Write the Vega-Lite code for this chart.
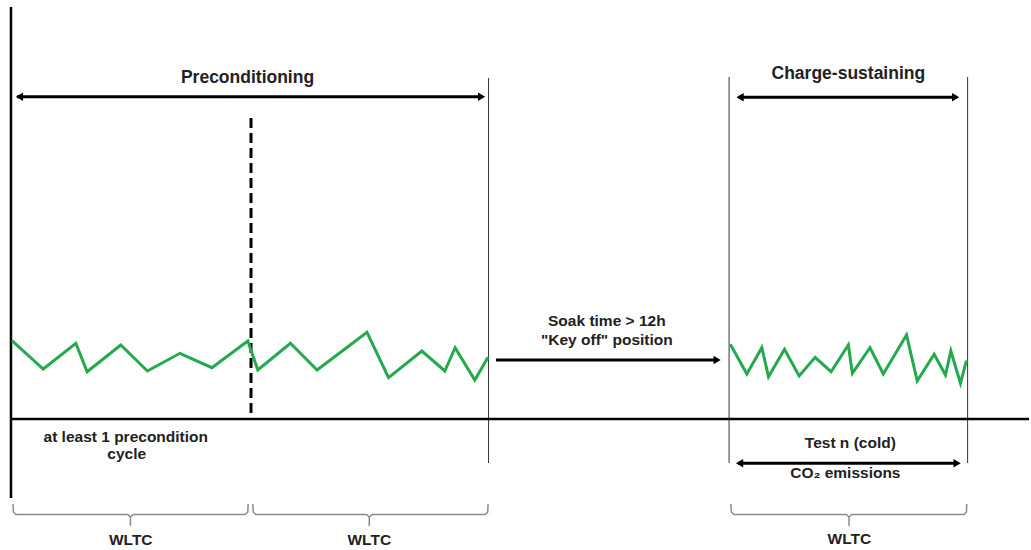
{
  "$schema": "https://vega.github.io/schema/vega-lite/v6.json",
  "width": 1031,
  "height": 550,
  "padding": 0,
  "autosize": {"type": "fit", "contains": "padding"},
  "background": "white",
  "config": {"view": {"stroke": null}},
  "datasets": {
    "green": [
      {"seg": "A", "i": 1, "x": 12, "y": 340.7}, {"seg": "A", "i": 2, "x": 43.3, "y": 369}, {"seg": "A", "i": 3, "x": 76, "y": 343.3},
      {"seg": "A", "i": 4, "x": 87.3, "y": 371.7}, {"seg": "A", "i": 5, "x": 121, "y": 345}, {"seg": "A", "i": 6, "x": 147.7, "y": 371},
      {"seg": "A", "i": 7, "x": 180.3, "y": 353.3}, {"seg": "A", "i": 8, "x": 212.3, "y": 367.7}, {"seg": "A", "i": 9, "x": 248.3, "y": 341},
      {"seg": "A", "i": 10, "x": 258.3, "y": 370}, {"seg": "A", "i": 11, "x": 291, "y": 343.3}, {"seg": "A", "i": 12, "x": 317.7, "y": 370},
      {"seg": "A", "i": 13, "x": 367.7, "y": 332.3}, {"seg": "A", "i": 14, "x": 389.3, "y": 377.7}, {"seg": "A", "i": 15, "x": 422.7, "y": 351},
      {"seg": "A", "i": 16, "x": 445.7, "y": 371}, {"seg": "A", "i": 17, "x": 456, "y": 347.7}, {"seg": "A", "i": 18, "x": 475.7, "y": 380},
      {"seg": "A", "i": 19, "x": 489, "y": 357.3},
      {"seg": "B", "i": 1, "x": 731.7, "y": 344.3}, {"seg": "B", "i": 2, "x": 748.3, "y": 374}, {"seg": "B", "i": 3, "x": 763.3, "y": 347.7},
      {"seg": "B", "i": 4, "x": 770, "y": 376.7}, {"seg": "B", "i": 5, "x": 786, "y": 349.3}, {"seg": "B", "i": 6, "x": 800.7, "y": 376},
      {"seg": "B", "i": 7, "x": 816.7, "y": 357.3}, {"seg": "B", "i": 8, "x": 832.7, "y": 371.7}, {"seg": "B", "i": 9, "x": 850, "y": 345},
      {"seg": "B", "i": 10, "x": 854, "y": 373.3}, {"seg": "B", "i": 11, "x": 871.7, "y": 347.7}, {"seg": "B", "i": 12, "x": 885, "y": 374},
      {"seg": "B", "i": 13, "x": 908.3, "y": 335}, {"seg": "B", "i": 14, "x": 919, "y": 381}, {"seg": "B", "i": 15, "x": 936, "y": 354.3},
      {"seg": "B", "i": 16, "x": 947.3, "y": 375}, {"seg": "B", "i": 17, "x": 952.7, "y": 351}, {"seg": "B", "i": 18, "x": 962.3, "y": 383.3},
      {"seg": "B", "i": 19, "x": 968.3, "y": 360.7}
    ],
    "axes": [
      {"x": 11, "y": 7, "x2": 11, "y2": 498},
      {"x": 11, "y": 419, "x2": 1031, "y2": 419}
    ],
    "shafts": [
      {"x": 17, "y": 96.7, "x2": 483, "y2": 96.7},
      {"x": 740, "y": 97.3, "x2": 958, "y2": 97.3},
      {"x": 497, "y": 360, "x2": 716, "y2": 360},
      {"x": 740, "y": 463.3, "x2": 958, "y2": 463.3}
    ],
    "thin": [
      {"x": 489.5, "y": 78, "x2": 489.5, "y2": 463},
      {"x": 730.5, "y": 77, "x2": 730.5, "y2": 463},
      {"x": 969.5, "y": 77, "x2": 969.5, "y2": 463}
    ],
    "dashed": [
      {"x": 251.5, "y": 118, "x2": 251.5, "y2": 418}
    ],
    "headsL": [
      {"x": 19.5, "y": 96.7}, {"x": 741.5, "y": 97.3}, {"x": 741, "y": 463.3}
    ],
    "headsR": [
      {"x": 482.5, "y": 96.7}, {"x": 957.5, "y": 97.3}, {"x": 718.5, "y": 360}, {"x": 959, "y": 463.3}
    ],
    "braces": [
      {"b": 1, "i": 1, "x": 13, "y": 504}, {"b": 1, "i": 2, "x": 13.5, "y": 512}, {"b": 1, "i": 3, "x": 16, "y": 514.5},
      {"b": 1, "i": 4, "x": 128, "y": 514.5}, {"b": 1, "i": 5, "x": 130.7, "y": 517}, {"b": 1, "i": 6, "x": 130.7, "y": 526},
      {"b": 1, "i": 7, "x": 130.7, "y": 517}, {"b": 1, "i": 8, "x": 133.4, "y": 514.5}, {"b": 1, "i": 9, "x": 245.8, "y": 514.5},
      {"b": 1, "i": 10, "x": 248.3, "y": 512}, {"b": 1, "i": 11, "x": 248.6, "y": 504},
      {"b": 2, "i": 1, "x": 253.3, "y": 504}, {"b": 2, "i": 2, "x": 253.8, "y": 512}, {"b": 2, "i": 3, "x": 256.3, "y": 514.5},
      {"b": 2, "i": 4, "x": 367.3, "y": 514.5}, {"b": 2, "i": 5, "x": 370, "y": 517}, {"b": 2, "i": 6, "x": 370, "y": 526},
      {"b": 2, "i": 7, "x": 370, "y": 517}, {"b": 2, "i": 8, "x": 372.7, "y": 514.5}, {"b": 2, "i": 9, "x": 486.2, "y": 514.5},
      {"b": 2, "i": 10, "x": 488.7, "y": 512}, {"b": 2, "i": 11, "x": 489, "y": 504},
      {"b": 3, "i": 1, "x": 732.3, "y": 504}, {"b": 3, "i": 2, "x": 732.8, "y": 512}, {"b": 3, "i": 3, "x": 735.3, "y": 514.5},
      {"b": 3, "i": 4, "x": 848, "y": 514.5}, {"b": 3, "i": 5, "x": 850.7, "y": 517}, {"b": 3, "i": 6, "x": 850.7, "y": 526},
      {"b": 3, "i": 7, "x": 850.7, "y": 517}, {"b": 3, "i": 8, "x": 853.4, "y": 514.5}, {"b": 3, "i": 9, "x": 965.8, "y": 514.5},
      {"b": 3, "i": 10, "x": 968.3, "y": 512}, {"b": 3, "i": 11, "x": 968.6, "y": 504}
    ],
    "titles": [
      {"x": 248, "y": 78, "label": "Preconditioning"},
      {"x": 850, "y": 74, "label": "Charge-sustaining"}
    ],
    "labels": [
      {"x": 608, "y": 321, "label": "Soak time > 12h"},
      {"x": 608, "y": 340, "label": "\"Key off\" position"},
      {"x": 126, "y": 437, "label": "at least 1 precondition"},
      {"x": 127, "y": 454, "label": "cycle"},
      {"x": 852, "y": 443, "label": "Test n (cold)"},
      {"x": 847, "y": 473, "label": "CO₂ emissions"},
      {"x": 131, "y": 540, "label": "WLTC"},
      {"x": 370, "y": 540, "label": "WLTC"},
      {"x": 851, "y": 539, "label": "WLTC"}
    ]
  },
  "encoding": {
    "x": {"field": "x", "type": "quantitative", "scale": {"domain": [0, 1031], "nice": false, "zero": false}, "axis": null},
    "y": {"field": "y", "type": "quantitative", "scale": {"domain": [0, 550], "nice": false, "zero": false, "reverse": true}, "axis": null}
  },
  "layer": [
    {
      "data": {"name": "braces"},
      "mark": {"type": "line", "color": "#8a8a8a", "strokeWidth": 1.5, "interpolate": "linear"},
      "encoding": {"detail": {"field": "b"}, "order": {"field": "i", "type": "quantitative"}}
    },
    {
      "data": {"name": "thin"},
      "mark": {"type": "rule", "color": "#333333", "strokeWidth": 1},
      "encoding": {"x2": {"field": "x2"}, "y2": {"field": "y2"}}
    },
    {
      "data": {"name": "axes"},
      "mark": {"type": "rule", "color": "#000000", "strokeWidth": 2.5},
      "encoding": {"x2": {"field": "x2"}, "y2": {"field": "y2"}}
    },
    {
      "data": {"name": "dashed"},
      "mark": {"type": "rule", "color": "#000000", "strokeWidth": 3, "strokeDash": [10, 5]},
      "encoding": {"x2": {"field": "x2"}, "y2": {"field": "y2"}}
    },
    {
      "data": {"name": "green"},
      "mark": {"type": "line", "color": "#22aa4c", "strokeWidth": 3, "strokeJoin": "miter"},
      "encoding": {"detail": {"field": "seg"}, "order": {"field": "i", "type": "quantitative"}}
    },
    {
      "data": {"name": "shafts"},
      "mark": {"type": "rule", "color": "#000000", "strokeWidth": 3},
      "encoding": {"x2": {"field": "x2"}, "y2": {"field": "y2"}}
    },
    {
      "data": {"name": "headsL"},
      "mark": {"type": "point", "shape": "triangle-left", "filled": true, "color": "#000000", "size": 70, "opacity": 1}
    },
    {
      "data": {"name": "headsR"},
      "mark": {"type": "point", "shape": "triangle-right", "filled": true, "color": "#000000", "size": 70, "opacity": 1}
    },
    {
      "data": {"name": "titles"},
      "mark": {"type": "text", "font": "Liberation Sans", "fontWeight": "bold", "fontSize": 17.5, "color": "#222222", "baseline": "middle", "align": "center"},
      "encoding": {"text": {"field": "label"}}
    },
    {
      "data": {"name": "labels"},
      "mark": {"type": "text", "font": "Liberation Sans", "fontWeight": "bold", "fontSize": 15.5, "color": "#222222", "baseline": "middle", "align": "center"},
      "encoding": {"text": {"field": "label"}}
    }
  ]
}
